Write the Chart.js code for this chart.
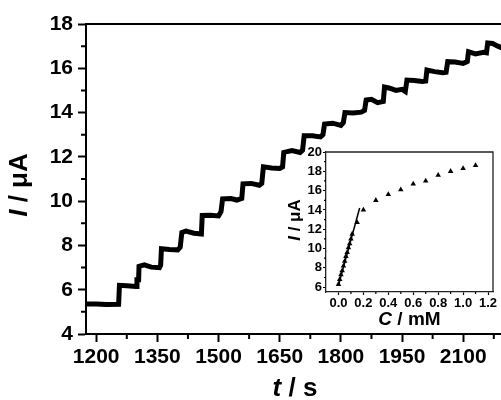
<!DOCTYPE html>
<html>
<head>
<meta charset="utf-8">
<script src="https://cdn.jsdelivr.net/npm/chart.js@4"></script>
<style>
  html, body { margin: 0; padding: 0; background: #fff; overflow: hidden; }
  #wrap { position: relative; width: 501px; height: 400px; overflow: hidden; }
  #main { position: absolute; left: 0; top: 0; }
  #inset { position: absolute; left: 270px; top: 140px; }
</style>
</head>
<body>
<div id="wrap">
  <canvas id="main" width="504" height="400"></canvas>
  <canvas id="inset" width="231" height="195"></canvas>
</div>
<script>
const FONT = '"Liberation Sans", Arial, sans-serif';

// main trace: amperometric steps, current (uA) vs time (s)
const timeS = [1177, 1200, 1225, 1255,
  1257, 1275, 1298, 1300, 1304,
  1305, 1318, 1335, 1355, 1358,
  1360, 1380, 1400, 1406,
  1410, 1420, 1440, 1458,
  1460, 1480, 1500, 1506,
  1510, 1530, 1545, 1557,
  1560, 1580, 1600, 1606,
  1610, 1630, 1650, 1657,
  1660, 1680, 1700, 1706,
  1710, 1730, 1750, 1756,
  1760, 1780, 1800, 1806,
  1810, 1830, 1850, 1858,
  1862, 1875, 1890, 1904,
  1907, 1920, 1935, 1950, 1958,
  1962, 1980, 2000, 2008,
  2011, 2030, 2050, 2058,
  2062, 2080, 2100, 2110,
  2113, 2130, 2150, 2157,
  2160, 2172, 2185, 2198];
const currentUA = [5.35, 5.36, 5.33, 5.34,
  6.2, 6.18, 6.15, 6.45, 6.45,
  7.05, 7.12, 7.02, 7.0, 7.1,
  7.85, 7.82, 7.8, 7.92,
  8.58, 8.65, 8.55, 8.52,
  9.35, 9.36, 9.33, 9.52,
  10.1, 10.12, 10.05, 10.12,
  10.78, 10.8, 10.72, 10.8,
  11.55, 11.5, 11.48, 11.55,
  12.2, 12.28, 12.2, 12.3,
  12.95, 12.95, 12.9, 13.0,
  13.48, 13.52, 13.42, 13.55,
  14.0, 13.98, 14.02, 14.1,
  14.57, 14.6, 14.45, 14.5,
  15.15, 15.1, 15.0, 15.05, 14.95,
  15.47, 15.45, 15.4, 15.42,
  15.92, 15.85, 15.8, 15.82,
  16.3, 16.28, 16.22, 16.3,
  16.75, 16.65, 16.72, 16.7,
  17.14, 17.12, 17.0, 16.9];

const xMajor = [1200, 1350, 1500, 1650, 1800, 1950, 2100];
const xMinor = [1275, 1425, 1575, 1725, 1875, 2025, 2175];
const yMajor = [4, 6, 8, 10, 12, 14, 16, 18];
const yMinor = [5, 7, 9, 11, 13, 15, 17];

// inset: calibration, response (uA) vs concentration (mM)
const concMM = [0, 0.01, 0.02, 0.03, 0.04, 0.05, 0.06, 0.07, 0.08, 0.09, 0.10, 0.11, 0.15,
  0.2, 0.3, 0.4, 0.5, 0.6, 0.7, 0.8, 0.9, 1.0, 1.1];
const respUA = [6.3, 6.8, 7.3, 7.7, 8.2, 8.7, 9.2, 9.6, 10.1, 10.5, 11.0, 11.5, 12.7,
  14.0, 15.0, 15.6, 16.1, 16.7, 17.0, 17.6, 18.0, 18.3, 18.6];
const fitC = [0, 0.17];
const fitI = [6.2, 14.2];
const insetXTicks = [0, 0.2, 0.4, 0.6, 0.8, 1.0, 1.2];
const insetXMinor = [0.1, 0.3, 0.5, 0.7, 0.9, 1.1];
const insetYTicks = [6, 8, 10, 12, 14, 16, 18, 20];
const insetYMinor = [7, 9, 11, 13, 15, 17, 19];

function drawRich(ctx, parts, cx, cy, size, rotate) {
  ctx.save();
  ctx.translate(cx, cy);
  if (rotate) ctx.rotate(-Math.PI / 2);
  ctx.fillStyle = '#000';
  ctx.textBaseline = 'middle';
  ctx.textAlign = 'left';
  const fontOf = p => (p[1] ? 'italic ' : '') + 'bold ' + size + 'px ' + FONT;
  const widths = parts.map(p => { ctx.font = fontOf(p); return ctx.measureText(p[0]).width; });
  let x = -widths.reduce((a, b) => a + b, 0) / 2;
  parts.forEach((p, i) => { ctx.font = fontOf(p); ctx.fillText(p[0], x, 0); x += widths[i]; });
  ctx.restore();
}

function minorTicks(ctx, chart, xs, ys, len, width) {
  const a = chart.chartArea;
  const sx = chart.scales.x, sy = chart.scales.y;
  ctx.save();
  ctx.strokeStyle = '#000';
  ctx.lineWidth = width;
  ctx.beginPath();
  xs.forEach(v => { const p = sx.getPixelForValue(v); ctx.moveTo(p, a.bottom); ctx.lineTo(p, a.bottom + len); });
  ys.forEach(v => { const p = sy.getPixelForValue(v); ctx.moveTo(a.left, p); ctx.lineTo(a.left - len, p); });
  ctx.stroke();
  ctx.restore();
}

const mainDecor = {
  id: 'mainDecor',
  afterDraw(chart) {
    const ctx = chart.ctx, a = chart.chartArea;
    minorTicks(ctx, chart, xMinor, yMinor, 5, 2);
    ctx.save();
    ctx.strokeStyle = '#000';
    ctx.lineWidth = 2;
    ctx.beginPath();
    ctx.moveTo(a.left - 1, a.top);
    ctx.lineTo(a.right, a.top);
    ctx.stroke();
    ctx.restore();
    drawRich(ctx, [['I', true], [' / \u03bcA', false]], 20, (a.top + a.bottom) / 2 + 6, 26, true);
    drawRich(ctx, [['t', true], [' / s', false]], (a.left + a.right) / 2, 389, 26, false);
  }
};

const insetDecor = {
  id: 'insetDecor',
  afterDraw(chart) {
    const ctx = chart.ctx, a = chart.chartArea;
    minorTicks(ctx, chart, insetXMinor, insetYMinor, 2, 1.2);
    ctx.save();
    ctx.strokeStyle = '#222';
    ctx.lineWidth = 1.3;
    ctx.beginPath();
    ctx.moveTo(a.left, a.top);
    ctx.lineTo(a.right, a.top);
    ctx.lineTo(a.right, a.bottom);
    ctx.stroke();
    ctx.restore();
    drawRich(ctx, [['I', true], [' / \u03bcA', false]], 25, (a.top + a.bottom) / 2 - 2, 17, true);
    drawRich(ctx, [['C', true], [' / mM', false]], (a.left + a.right) / 2, 180, 19, false);
  }
};

const tickFont = { family: FONT, size: 21, weight: 'bold' };

new Chart(document.getElementById('main'), {
  type: 'line',
  data: {
    datasets: [{
      data: timeS.map((t, i) => ({ x: t, y: currentUA[i] })),
      borderColor: '#000',
      borderWidth: 5,
      pointRadius: 0,
      tension: 0
    }]
  },
  options: {
    responsive: false,
    animation: false,
    layout: { padding: { top: 24, right: 0, left: 0, bottom: 0 } },
    plugins: { legend: { display: false }, tooltip: { enabled: false } },
    scales: {
      x: {
        type: 'linear', min: 1175, max: 2200,
        afterBuildTicks: s => { s.ticks = xMajor.map(v => ({ value: v })); },
        afterFit: s => { s.height = 66; },
        grid: { drawOnChartArea: false, tickLength: 8, tickWidth: 2, tickColor: '#000' },
        border: { color: '#000', width: 2 },
        ticks: { color: '#000', font: tickFont, padding: 3, maxRotation: 0, autoSkip: false,
          callback: v => String(v) }
      },
      y: {
        type: 'linear', min: 4, max: 18,
        afterBuildTicks: s => { s.ticks = yMajor.map(v => ({ value: v })); },
        afterFit: s => { s.width = 86; },
        grid: { drawOnChartArea: false, tickLength: 8, tickWidth: 2, tickColor: '#000' },
        border: { color: '#000', width: 2 },
        ticks: { color: '#000', font: tickFont, padding: 5, autoSkip: false,
          callback: v => String(v) }
      }
    }
  },
  plugins: [mainDecor]
});

const insetFont = { family: FONT, size: 13, weight: 'bold' };

new Chart(document.getElementById('inset'), {
  type: 'scatter',
  data: {
    datasets: [{
      data: concMM.map((c, i) => ({ x: c, y: respUA[i] })),
      pointStyle: 'triangle',
      pointRadius: 3.2,
      backgroundColor: '#000',
      borderColor: '#000',
      borderWidth: 0,
      showLine: false
    }, {
      data: fitC.map((c, i) => ({ x: c, y: fitI[i] })),
      showLine: true,
      borderColor: '#000',
      borderWidth: 1.5,
      pointRadius: 0
    }]
  },
  options: {
    responsive: false,
    animation: false,
    layout: { padding: { top: 12, right: 8, left: 0, bottom: 0 } },
    plugins: { legend: { display: false }, tooltip: { enabled: false } },
    scales: {
      x: {
        type: 'linear', min: -0.1, max: 1.24,
        afterBuildTicks: s => { s.ticks = insetXTicks.map(v => ({ value: v })); },
        afterFit: s => { s.height = 43; },
        grid: { drawOnChartArea: false, tickLength: 3, tickWidth: 1.2, tickColor: '#000' },
        border: { color: '#222', width: 1.3 },
        ticks: { color: '#000', font: insetFont, padding: 1, maxRotation: 0, autoSkip: false,
          callback: v => v.toFixed(1) }
      },
      y: {
        type: 'linear', min: 5.5, max: 20,
        afterBuildTicks: s => { s.ticks = insetYTicks.map(v => ({ value: v })); },
        afterFit: s => { s.width = 56; },
        grid: { drawOnChartArea: false, tickLength: 3, tickWidth: 1.2, tickColor: '#000' },
        border: { color: '#222', width: 1.3 },
        ticks: { color: '#000', font: insetFont, padding: 1, autoSkip: false,
          callback: v => String(v) }
      }
    }
  },
  plugins: [insetDecor]
});
</script>
</body>
</html>
